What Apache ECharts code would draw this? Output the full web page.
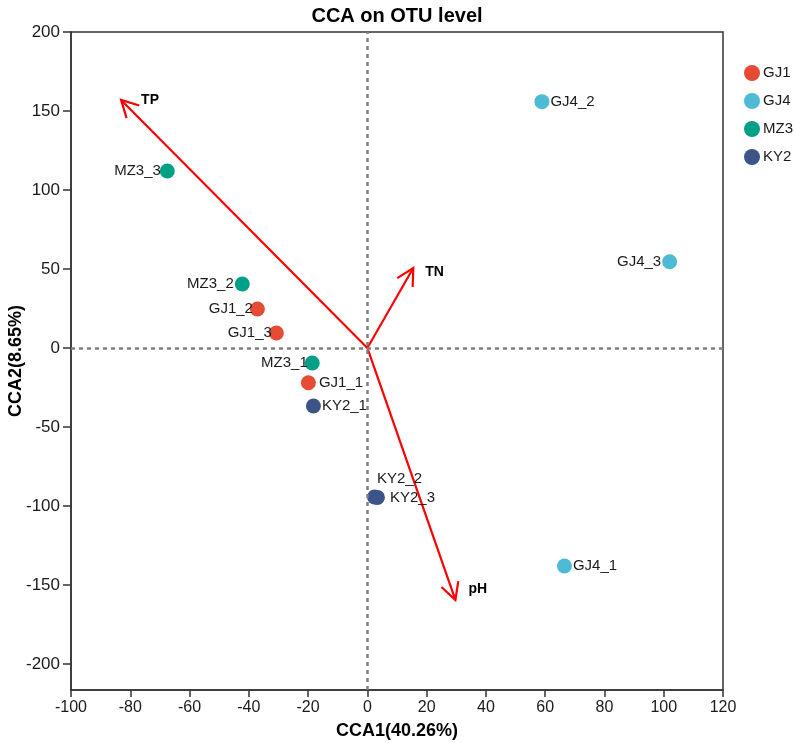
<!DOCTYPE html>
<html>
<head>
<meta charset="utf-8">
<script src="https://cdn.jsdelivr.net/npm/echarts@6/dist/echarts.min.js"></script>
<style>html,body{margin:0;padding:0;background:#fff}#c{width:794px;height:743px}</style>
</head>
<body>
<div id="c"></div>
<script>
// ---- data ----
var groups = ['GJ1', 'GJ4', 'MZ3', 'KY2'];
var GJ1_names = ['GJ1_1', 'GJ1_2', 'GJ1_3'];
var GJ1_x = [-19.9, -37.1, -30.7];
var GJ1_y = [-22, 24.7, 9.5];
var GJ4_names = ['GJ4_1', 'GJ4_2', 'GJ4_3'];
var GJ4_x = [66.5, 58.9, 102];
var GJ4_y = [-138, 155.9, 54.6];
var MZ3_names = ['MZ3_1', 'MZ3_2', 'MZ3_3'];
var MZ3_x = [-18.6, -42.2, -67.5];
var MZ3_y = [-9.5, 40.5, 112];
var KY2_names = ['KY2_1', 'KY2_2', 'KY2_3'];
var KY2_x = [-18.2, 2.4, 3.4];
var KY2_y = [-36.7, -94.3, -94.6];
var envNames = ['TP', 'TN', 'pH'];
var envX = [-83.1, 15.5, 29.7];
var envY = [157, 50.6, -159.5];
var xTicks = [-100, -80, -60, -40, -20, 0, 20, 40, 60, 80, 100, 120];
var yTicks = [-200, -150, -100, -50, 0, 50, 100, 150, 200];

// ---- styles ----
var colors = {GJ1: '#E64B35', GJ4: '#4DBBD5', MZ3: '#00A087', KY2: '#3C5488'};
var labelPos = {
  GJ1_1: 'right', GJ1_2: 'left', GJ1_3: 'left',
  GJ4_1: 'right', GJ4_2: 'right', GJ4_3: 'left',
  MZ3_1: 'left', MZ3_2: 'left', MZ3_3: 'left',
  KY2_1: 'right', KY2_2: 'top', KY2_3: 'right'
};
var labelOffset = {KY2_2: [25, -2], KY2_3: [4, 0], GJ1_1: [2, 0], MZ3_1: [4, 0], GJ1_3: [4, 0], GJ1_2: [4, 0], MZ3_3: [2, 0]};
var envLabelOffset = {TP: [20, 0], TN: [12, 4], pH: [13, -11]};
var FONT = 'Liberation Sans, Arial, sans-serif';

var pointData = {
  GJ1: [GJ1_names, GJ1_x, GJ1_y],
  GJ4: [GJ4_names, GJ4_x, GJ4_y],
  MZ3: [MZ3_names, MZ3_x, MZ3_y],
  KY2: [KY2_names, KY2_x, KY2_y]
};

var series = [];
// zero lines
series.push({
  type: 'line', data: [], silent: true,
  markLine: {
    silent: true, symbol: 'none', animation: false,
    label: {show: false},
    lineStyle: {color: '#808080', type: [4, 4], width: 2.5},
    data: [{xAxis: 0}, {yAxis: 0}]
  }
});
// arrows
series.push({
  type: 'custom', silent: true, z: 3,
  data: envNames.map(function (n, i) { return [envX[i], envY[i], n]; }),
  renderItem: function (params, api) {
    var o = api.coord([0, 0]);
    var t = api.coord([api.value(0), api.value(1)]);
    var name = envNames[params.dataIndex];
    var dx = o[0] - t[0], dy = o[1] - t[1];
    var L = Math.sqrt(dx * dx + dy * dy);
    var ux = dx / L, uy = dy / L;
    var hl = 19, ang = 28 * Math.PI / 180;
    function rot(a) {
      var c = Math.cos(a), s = Math.sin(a);
      return [t[0] + hl * (ux * c - uy * s), t[1] + hl * (ux * s + uy * c)];
    }
    var a1 = rot(ang), a2 = rot(-ang);
    var off = envLabelOffset[name];
    var st = {stroke: '#FF0000', lineWidth: 2.2, fill: null};
    return {
      type: 'group',
      children: [
        {type: 'line', shape: {x1: o[0], y1: o[1], x2: t[0], y2: t[1]}, style: st},
        {type: 'polyline', shape: {points: [a1, t, a2]}, style: st},
        {type: 'text', x: t[0] + off[0], y: t[1] + off[1],
         style: {text: name, fill: '#000', font: 'bold 14px ' + FONT, align: 'left', verticalAlign: 'middle'}}
      ]
    };
  }
});
groups.forEach(function (g) {
  var d = pointData[g];
  series.push({
    name: g, type: 'scatter', symbol: 'circle', symbolSize: 15, z: 4,
    itemStyle: {color: colors[g], opacity: 1},
    data: d[0].map(function (n, i) {
      return {
        name: n, value: [d[1][i], d[2][i]],
        label: {show: true, position: labelPos[n], offset: labelOffset[n] || [0, 0],
                formatter: n, distance: 1, color: '#1a1a1a', fontSize: 15, fontFamily: FONT}
      };
    })
  });
});

var chart = echarts.init(document.getElementById('c'), null, {renderer: 'canvas'});
chart.setOption({
  animation: false,
  backgroundColor: '#fff',
  title: {text: 'CCA on OTU level', left: 'center', top: 1,
          textStyle: {fontSize: 20, fontWeight: 'bold', color: '#000', fontFamily: FONT}},
  legend: {
    data: groups, orient: 'vertical', left: 739, top: 60, itemGap: 12,
    icon: 'circle', itemWidth: 16, itemHeight: 16, itemStyle: {borderWidth: 0},
    textStyle: {fontSize: 15, color: '#1a1a1a', fontFamily: FONT, padding: [0, 0, 0, -2]}
  },
  grid: {left: 71, right: 71, top: 32, bottom: 53, show: true, borderColor: '#333', borderWidth: 1.5,
         containLabel: false, outerBoundsMode: 'none'},
  xAxis: {
    type: 'value', min: xTicks[0], max: xTicks[xTicks.length - 1], interval: 20,
    name: 'CCA1(40.26%)', nameLocation: 'middle', nameGap: 32,
    nameTextStyle: {fontSize: 18, fontWeight: 'bold', color: '#000', fontFamily: FONT},
    axisLine: {show: true, onZero: false, lineStyle: {color: '#333', width: 1.5}},
    axisTick: {show: true, length: 7, lineStyle: {color: '#333', width: 1.5}},
    axisLabel: {fontSize: 16, color: '#1a1a1a', fontFamily: FONT, margin: 10},
    splitLine: {show: false}
  },
  yAxis: {
    type: 'value', min: -216.5, max: 200,
    name: 'CCA2(8.65%)', nameLocation: 'middle', nameGap: 46, nameMoveOverlap: false,
    nameTextStyle: {fontSize: 18, fontWeight: 'bold', color: '#000', fontFamily: FONT},
    axisLine: {show: true, onZero: false, lineStyle: {color: '#333', width: 1.5}},
    axisTick: {show: true, length: 8, customValues: yTicks, lineStyle: {color: '#333', width: 1.5}},
    axisLabel: {fontSize: 17, color: '#1a1a1a', fontFamily: FONT, margin: 11, customValues: yTicks},
    splitLine: {show: false}
  },
  series: series
});
</script>
</body>
</html>
